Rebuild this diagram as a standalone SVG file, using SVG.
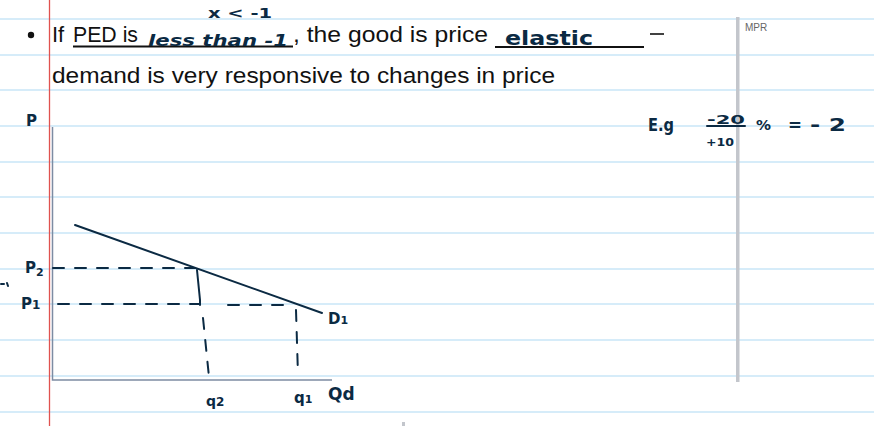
<svg xmlns="http://www.w3.org/2000/svg" width="874" height="426" viewBox="0 0 874 426">
<defs>
<style>
.rule{stroke:#c9e6f7;stroke-width:1.3}
.ink{fill:none;stroke:#0b2a43;stroke-width:2;stroke-linecap:round}
.dash{fill:none;stroke:#0b2a43;stroke-width:2;stroke-dasharray:11 11;stroke-linecap:round}
.axis{fill:none;stroke:#7d8ca3;stroke-width:1.5}
.print{font-family:"Liberation Sans",Arial,sans-serif;font-size:22px;fill:#111}
.hand{font-family:"DejaVu Sans",sans-serif;font-weight:bold;fill:#0b2a43}
</style>
</defs>
<rect width="874" height="426" fill="#fff"/>
<g id="ruled-lines">
<line class="rule" x1="0" y1="19" x2="874" y2="19"/>
<line class="rule" x1="0" y1="55" x2="874" y2="55"/>
<line class="rule" x1="0" y1="90" x2="874" y2="90"/>
<line class="rule" x1="0" y1="126" x2="874" y2="126"/>
<line class="rule" x1="0" y1="162" x2="874" y2="162"/>
<line class="rule" x1="0" y1="197" x2="874" y2="197"/>
<line class="rule" x1="0" y1="233" x2="874" y2="233"/>
<line class="rule" x1="0" y1="269" x2="874" y2="269"/>
<line class="rule" x1="0" y1="304" x2="874" y2="304"/>
<line class="rule" x1="0" y1="340" x2="874" y2="340"/>
<line class="rule" x1="0" y1="376" x2="874" y2="376"/>
<line class="rule" x1="0" y1="412" x2="874" y2="412"/>
</g>
<line id="margin" x1="49.5" y1="0" x2="49.5" y2="426" stroke="#e0524f" stroke-width="1.3"/>
<rect id="divider" x="736" y="17" width="3.5" height="365" fill="#c3c6cc"/>
<text x="745" y="31" font-family="Liberation Sans,Arial,sans-serif" font-size="10" fill="#666">MPR</text>
<rect x="402" y="422" width="3" height="4" fill="#c3c6cc"/>

<g id="sentence">
<circle cx="31" cy="35" r="3.2" fill="#111"/>
<text class="print" x="52" y="42">If</text>
<text class="print" x="73" y="42" textLength="65" lengthAdjust="spacingAndGlyphs">PED is</text>
<line x1="73" y1="46.5" x2="293" y2="46.5" stroke="#111" stroke-width="2"/>
<text class="hand" x="148" y="46" font-size="15" font-style="italic" textLength="140" lengthAdjust="spacingAndGlyphs" fill="#14456b">less than -1</text>
<text class="hand" x="208" y="18" font-size="14" font-weight="normal" textLength="64" lengthAdjust="spacingAndGlyphs" fill="#14456b">x &lt; -1</text>
<text class="print" x="293" y="42" textLength="195" lengthAdjust="spacingAndGlyphs">, the good is price</text>
<line x1="495" y1="47" x2="644" y2="47" stroke="#111" stroke-width="2"/>
<text class="hand" x="505" y="45" font-size="19" font-weight="normal" textLength="88" lengthAdjust="spacingAndGlyphs" fill="#14456b">elastic</text>
<line x1="650" y1="34" x2="664" y2="34" stroke="#111" stroke-width="1.6"/>
<text class="print" x="52" y="83" textLength="503" lengthAdjust="spacingAndGlyphs">demand is very responsive to changes in price</text>
</g>

<g id="example">
<text class="hand" x="648" y="131" font-size="18" textLength="26" lengthAdjust="spacingAndGlyphs">E.g</text>
<text class="hand" x="707" y="124" font-size="13" textLength="38" lengthAdjust="spacingAndGlyphs">-20</text>
<line class="ink" x1="707" y1="126" x2="745" y2="126"/>
<text class="hand" x="706" y="146" font-size="11" textLength="28" lengthAdjust="spacingAndGlyphs">+10</text>
<text class="hand" x="756" y="130" font-size="14" textLength="15" lengthAdjust="spacingAndGlyphs">%</text>
<text class="hand" x="788" y="131" font-size="17" textLength="14" lengthAdjust="spacingAndGlyphs">=</text>
<text class="hand" x="810" y="131" font-size="17" textLength="36" lengthAdjust="spacingAndGlyphs">- 2</text>
</g>

<g id="graph">
<polyline class="axis" points="52.5,127 52.5,380 332,380"/>
<line id="demand" class="ink" x1="75" y1="225" x2="322" y2="313"/>
<g id="dashes">
<path class="dash" d="M53,268 H195"/>
<path class="dash" d="M58,304 H200"/>
<path class="dash" d="M228,305 H290"/>
<path class="ink" d="M197,270 L200,300 L200,305"/>
<path class="dash" d="M203,318 L209,377" stroke-dasharray="8 9"/>
<path class="dash" d="M296,310 L298,375" stroke-dasharray="9 9"/>
</g>
<text class="hand" x="26" y="126" font-size="15">P</text>
<text class="hand" x="25" y="273" font-size="15">P<tspan font-size="11" dy="3">2</tspan></text>
<text class="hand" x="21" y="309" font-size="15">P<tspan font-size="12">1</tspan></text>
<path class="ink" d="M1,284 l3,0 M7,283 l1,3" stroke-width="1.2"/>
<text class="hand" x="206" y="406" font-size="14">q<tspan font-size="12">2</tspan></text>
<text class="hand" x="294" y="403" font-size="15">q<tspan font-size="11">1</tspan></text>
<text class="hand" x="328" y="400" font-size="17">Qd</text>
<text class="hand" x="328" y="324" font-size="15">D<tspan font-size="11">1</tspan></text>
</g>
</svg>
